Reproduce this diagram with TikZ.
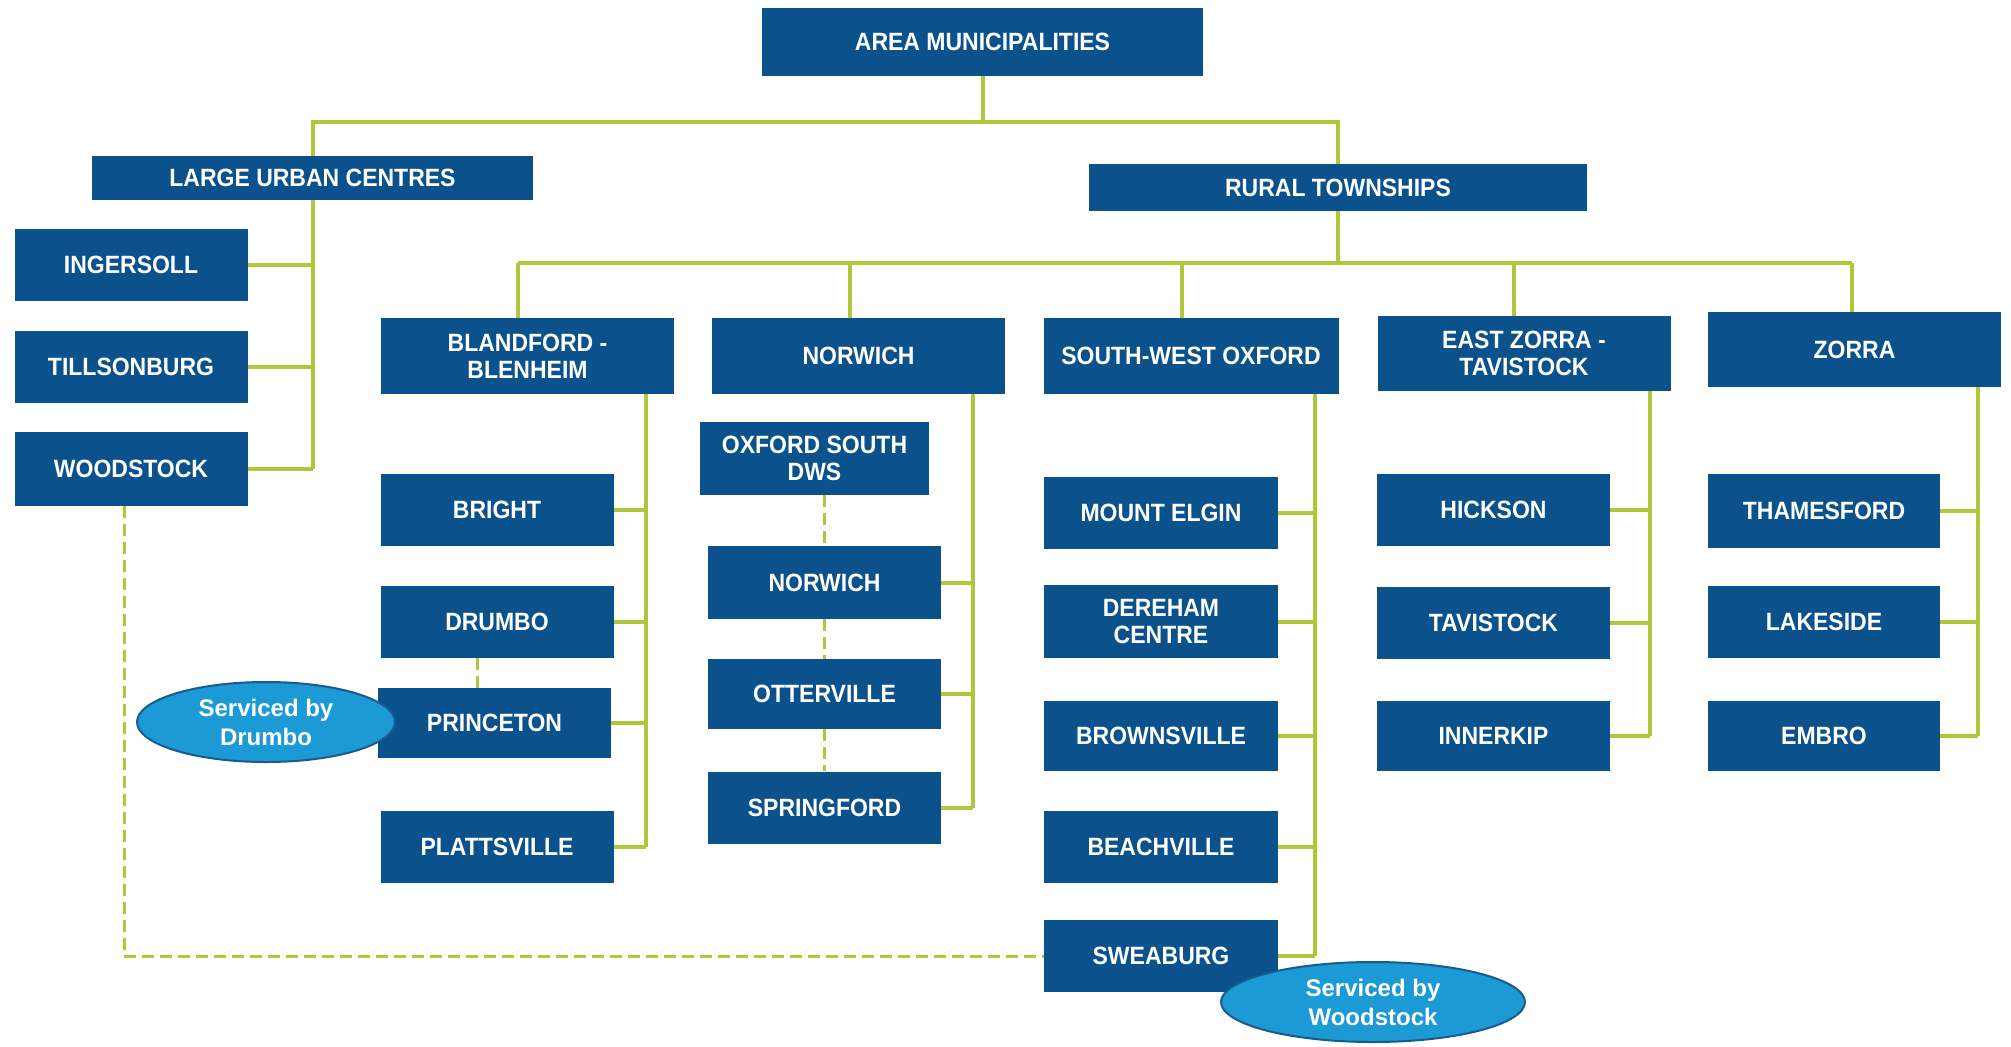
\documentclass[tikz,border=0pt]{standalone}
\usepackage{fontspec}
\setmainfont{Liberation Sans}
\newfontfamily\boxfont{Liberation Sans}[FakeStretch=0.92]
\usetikzlibrary{shapes.geometric}
\definecolor{boxblue}{RGB}{11,82,140}
\definecolor{linegreen}{RGB}{174,200,58}
\definecolor{ovalblue}{RGB}{27,154,214}
\definecolor{ovalrim}{RGB}{26,90,140}

\begin{document}
\begin{tikzpicture}
  [x=1pt,y=-1pt,
   every node/.style={rectangle,fill=boxblue,text=white,inner sep=0pt,align=center,
     font=\boxfont\bfseries\fontsize{25}{27}\selectfont},
   head/.style={minimum width=441pt,minimum height=68pt},
   twp/.style={minimum width=293pt,minimum height=76pt},
   town/.style={minimum width=233pt,minimum height=72pt},
   link/.style={draw=linegreen,line width=4pt},
   dashlink/.style={draw=linegreen,line width=3pt,dash pattern=on 12pt off 6pt},
   note/.style={ellipse,fill=ovalblue,draw=ovalrim,line width=2pt,text=white,
     font=\bfseries\fontsize{24}{29}\selectfont}]
  \useasboundingbox (0,0) rectangle (2011,1047);

  % top levels
  \node[head] (am)  at (982.5,42) {AREA MUNICIPALITIES};
  \node[head,minimum height=44pt] (luc) at (312.5,178) {LARGE URBAN CENTRES};
  \node[head,minimum width=498pt,minimum height=47pt] (rt) at (1338,187.5) {RURAL TOWNSHIPS};

  % urban centres
  \node[town] (ing) at (131,265) {INGERSOLL};
  \node[town] (til) at (131,367) {TILLSONBURG};
  \node[town,minimum height=74pt] (woo) at (131,469) {WOODSTOCK};

  % townships
  \node[twp] (bb)  at (527.5,356) {BLANDFORD -\\BLENHEIM};
  \node[twp] (nor) at (858.5,356) {NORWICH};
  \node[twp,minimum width=295pt] (swo) at (1191,356) {SOUTH-WEST OXFORD};
  \node[twp,minimum height=75pt] (ezt) at (1524,353.5) {EAST ZORRA -\\TAVISTOCK};
  \node[twp,minimum height=75pt] (zor) at (1854.5,349.5) {ZORRA};

  % communities
  \node[town] (bri) at (497,509.5) {BRIGHT};
  \node[town] (dru) at (497,622) {DRUMBO};
  \node[town,minimum height=70pt] (pri) at (494.5,723) {PRINCETON};
  \node[town] (pla) at (497,846.5) {PLATTSVILLE};

  \node[town,minimum width=229pt,minimum height=73pt] (osd) at (814.5,458.5) {OXFORD SOUTH\\DWS};
  \node[town,minimum height=73pt] (nor2) at (824.5,582.5) {NORWICH};
  \node[town,minimum height=70pt] (ott) at (824.5,694) {OTTERVILLE};
  \node[town] (spr) at (824.5,807.5) {SPRINGFORD};

  \node[town,minimum width=234pt] (mel) at (1161,512.5) {MOUNT ELGIN};
  \node[town,minimum width=234pt,minimum height=73pt] (der) at (1161,621.5) {DEREHAM\\CENTRE};
  \node[town,minimum width=234pt,minimum height=70pt] (bro) at (1161,736) {BROWNSVILLE};
  \node[town,minimum width=234pt] (bea) at (1161,847) {BEACHVILLE};
  \node[town,minimum width=234pt] (swe) at (1161,956) {SWEABURG};

  \node[town] (hic) at (1493.5,509.5) {HICKSON};
  \node[town] (tav) at (1493.5,622.5) {TAVISTOCK};
  \node[town,minimum height=70pt] (inn) at (1493.5,736) {INNERKIP};

  \node[town,minimum width=232pt,minimum height=74pt] (tha) at (1824,511) {THAMESFORD};
  \node[town,minimum width=232pt] (lak) at (1824,622) {LAKESIDE};
  \node[town,minimum width=232pt,minimum height=70pt] (emb) at (1824,736) {EMBRO};

  % tree connectors
  \draw[link] (am.south) -- ++(0,46) coordinate (topbus) -| (luc.north);
  \draw[link] (topbus) -| (rt.north);

  \draw[link] (luc.south) -- (luc.south |- woo.east);
  \foreach \c in {ing,til,woo}
    \draw[link] (\c.east) -- (\c.east -| luc.south);

  \draw[link] (rt.south) -- ++(0,52) coordinate (ruralbus);
  \draw[link] ([xshift=-10pt]ruralbus -| bb.north) -- ([xshift=-3pt]ruralbus -| zor.north);
  \foreach \p/\d in {bb/10,nor/9,swo/9,ezt/10,zor/3}
    \draw[link] ([xshift=-\d pt]\p.north) -- ([xshift=-\d pt]\p.north |- ruralbus);

  \foreach \p/\l/\s in {bb/pla/28,nor/spr/32,swo/swe/24,ezt/inn/21,zor/emb/23}
    \draw[link] (\p.south east) ++(-\s,0) coordinate (v\p) -- (v\p |- \l.east);

  \foreach \c/\p in {bri/bb,dru/bb,pri/bb,pla/bb,nor2/nor,ott/nor,spr/nor,
                     mel/swo,der/swo,bro/swo,bea/swo,swe/swo,
                     hic/ezt,tav/ezt,inn/ezt,tha/zor,lak/zor,emb/zor}
    \draw[link] (\c.east) -- (\c.east -| v\p);

  % serviced-by links
  \draw[dashlink] ([xshift=-20pt]dru.south) -- ([xshift=-20pt]dru.south |- pri.north);
  \foreach \a/\b in {osd/nor2,nor2/ott,ott/spr}
    \draw[dashlink] (nor2.south |- \a.south) -- (nor2.north |- \b.north);
  \draw[dashlink] ([xshift=-7pt]woo.south) |- (swe.west);

  % notes
  \node[note,minimum width=258pt,minimum height=80pt] (drumbo) at (266,722) {Serviced by\\Drumbo};
  \node[note,minimum width=304pt,minimum height=80pt] (wdstk) at (1373,1002) {Serviced by\\Woodstock};
\end{tikzpicture}
\end{document}
